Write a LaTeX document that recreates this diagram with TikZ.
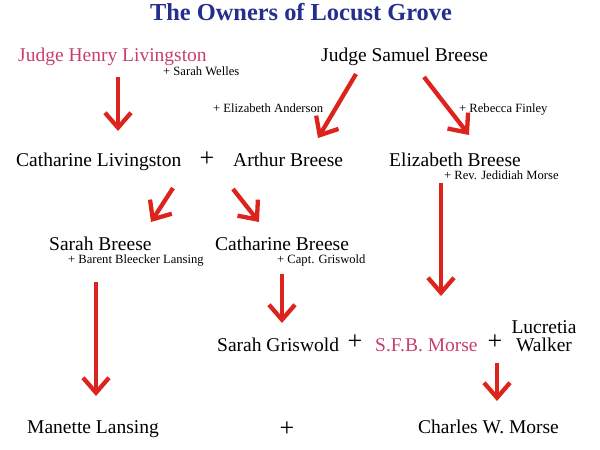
\documentclass[tikz,border=0pt]{standalone}
\usepackage{fontspec}
\setmainfont{Liberation Serif}
\usetikzlibrary{arrows.meta}

\definecolor{titleblue}{RGB}{36,46,140}
\definecolor{rosered}{RGB}{200,62,108}
\definecolor{arrowred}{RGB}{220,36,28}

\tikzset{
  person/.style={inner sep=0pt, anchor=base west, font=\fontsize{19.5}{18}\selectfont},
  spouse/.style={inner sep=0pt, anchor=base west, font=\fontsize{12.6}{14}\selectfont},
  joint/.style={inner sep=0pt, anchor=base, font=\fontsize{26}{26}\selectfont},
  descent/.style={arrowred, line width=4.3pt, -{Straight Barb[length=15pt,width=26pt]}}
}

\begin{document}
\begin{tikzpicture}[x=1pt,y=-1pt]
\useasboundingbox (0,0) rectangle (600,450);

% Title
\node[inner sep=0pt, anchor=base, text=titleblue,
  font=\fontsize{24.4}{28}\selectfont\bfseries] (title) at (301,20.7)
  {The Owners of Locust Grove};

% First generation
\node[person, text=rosered] (henry) at (18,61) {Judge Henry Livingston};
\node[spouse] (welles) at (163,75.5) {+ Sarah Welles};
\node[person] (samuel) at (321,61) {Judge Samuel Breese};
\node[spouse] (anderson) at (213,112) {+ Elizabeth Anderson};
\node[spouse] (finley) at (459,112) {+ Rebecca Finley};

% Second generation
\node[person] (catL) at (16,166) {Catharine Livingston};
\node[joint] (plusA) at (207,166.5) {+};
\node[person] (arthur) at (233,166) {Arthur Breese};
\node[person] (elizB) at (389,166) {Elizabeth Breese};
\node[spouse] (jedidiah) at (444,179) {+ Rev. Jedidiah Morse};

% Third generation
\node[person] (sarahB) at (49,250) {Sarah Breese};
\node[spouse] (lansing) at (68,263) {+ Barent Bleecker Lansing};
\node[person] (cathB) at (215,250) {Catharine Breese};
\node[spouse] (griswold) at (277,263) {+ Capt. Griswold};

% Fourth generation
\node[person] (sarahG) at (217,351) {Sarah Griswold};
\node[joint] (plusB) at (355,349.5) {+};
\node[person, text=rosered] (sfb) at (375,351) {S.F.B. Morse};
\node[joint] (plusC) at (495,349.5) {+};
\node[person, anchor=center, align=center] (lucretia) at (544,336) {Lucretia\\Walker};

% Fifth generation
\node[person] (manette) at (27,433) {Manette Lansing};
\node[joint] (plusD) at (287,436) {+};
\node[person] (charles) at (418,433) {Charles W. Morse};

% Arrow ends
\coordinate (henry-o) at (118,77);   \coordinate (catL-i) at (118,131);
\coordinate (samL-o) at (356,74);    \coordinate (arthur-i) at (318,138);
\coordinate (samR-o) at (424,77);    \coordinate (elizB-i) at (469,135);
\coordinate (parL-o) at (173,188);   \coordinate (sarahB-i) at (151,222);
\coordinate (parR-o) at (233,189);   \coordinate (cathB-i) at (259,222);
\coordinate (elizB-o) at (441,183);  \coordinate (sfb-i) at (441,296);
\coordinate (sarahB-o) at (96,282);  \coordinate (manette-i) at (96,396);
\coordinate (cathB-o) at (282,274);  \coordinate (sarahG-i) at (282,323);
\coordinate (sfb-o) at (497,363);    \coordinate (charles-i) at (497,401);

% Descent arrows
\draw[descent] (henry-o) -- (catL-i);
\draw[descent] (samL-o) -- (arthur-i);
\draw[descent] (samR-o) -- (elizB-i);
\draw[descent] (parL-o) -- (sarahB-i);
\draw[descent] (parR-o) -- (cathB-i);
\draw[descent] (elizB-o) -- (sfb-i);
\draw[descent] (sarahB-o) -- (manette-i);
\draw[descent] (cathB-o) -- (sarahG-i);
\draw[descent] (sfb-o) -- (charles-i);

\end{tikzpicture}
\end{document}
